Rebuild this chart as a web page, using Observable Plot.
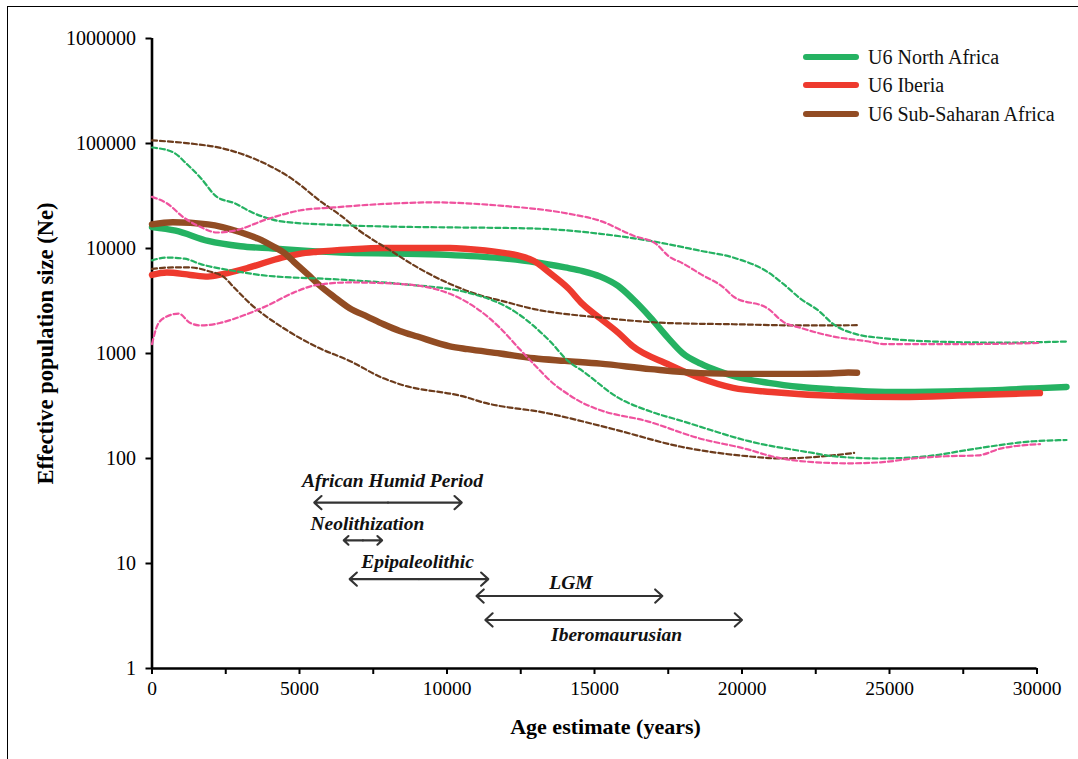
<!DOCTYPE html>
<html>
<head>
<meta charset="utf-8">
<script src="https://cdn.jsdelivr.net/npm/d3@7"></script>
<script src="https://cdn.jsdelivr.net/npm/@observablehq/plot@0.6"></script>
<style>
  body { margin: 0; background: #fff; }
  #wrap { position: relative; width: 1078px; height: 759px; overflow: hidden; background: #fff;
          font-family: "Liberation Serif", "Times New Roman", serif; }
  #frame { position: absolute; left: 7px; top: 6px; width: 1200px; height: 900px;
           border-left: 1px solid #000; border-top: 1px solid #000; pointer-events: none; }
  #chart { position: absolute; left: 0; top: 0; }
  #chart svg text { font-family: "Liberation Serif", "Times New Roman", serif; }
  .leg { position: absolute; left: 803px; height: 28px; display: flex; align-items: center; }
  .leg .sw { width: 56px; height: 6px; border-radius: 3px; }
  .leg .lb { margin-left: 9px; font-size: 20px; color: #111; white-space: nowrap; }
</style>
</head>
<body>
<div id="wrap">
  <div id="chart"></div>
  <div id="frame"></div>
  <div id="legend"></div>
</div>
<script>
// ---------- data (years, effective population size) ----------
const naMedian = [[0,16000],[800,14800],[1900,11800],[3000,10500],[4100,10000],[5300,9500],[6700,9100],[8400,8950],[10000,8700],[11800,8100],[13000,7400],[14000,6600],[14600,6100],[15200,5400],[15800,4400],[16300,3300],[16900,2200],[17500,1400],[18000,1000],[18600,800],[19200,680],[19700,610],[20900,525],[22000,480],[23100,455],[24300,435],[25400,430],[27600,440],[29900,465],[31000,480]];
const naUpper = [[0,91600],[700,83000],[1200,63000],[1650,47000],[2200,31000],[2800,27000],[3400,22000],[3900,19500],[4450,18000],[6150,16800],[8400,16100],[10000,15900],[12950,15500],[15200,13800],[16900,11800],[18600,9500],[19700,8200],[20900,5900],[21400,4600],[22000,3300],[22600,2550],[23100,1900],[23900,1520],[24800,1400],[26500,1300],[28800,1270],[31000,1300]];
const naLower = [[0,7700],[500,8200],[1100,8000],[1650,7100],[2800,6100],[3900,5500],[6150,5100],[8400,4600],[10700,3800],[12400,2400],[13500,1300],[14100,850],[14600,680],[15800,380],[16900,280],[18000,226],[18600,200],[20200,147],[22400,113],[23100,105],[24700,100],[26500,107],[27600,120],[29900,146],[31000,150]];

const ibMedian = [[0,5600],[500,5900],[1300,5600],[1900,5400],[2400,5700],[3300,6600],[4400,8200],[5000,8900],[5600,9300],[6700,9800],[7850,10100],[10100,10100],[10700,9900],[11800,9200],[12400,8600],[12950,7600],[13500,5800],[14100,4200],[14600,2950],[15200,2150],[15800,1580],[16300,1170],[17500,790],[18600,580],[19700,470],[21000,430],[23100,395],[25400,385],[27600,400],[30100,420]];
const ibUpper = [[0,31000],[500,27000],[1100,19500],[1650,16000],[2200,14200],[2800,14800],[3900,19000],[5000,23000],[6150,24600],[8400,27000],[9500,27500],[11800,25600],[14100,21500],[15200,18300],[16300,13300],[17100,11000],[17500,8500],[18000,7200],[18600,5700],[19400,4200],[19700,3500],[20900,2650],[21400,2000],[22000,1750],[23100,1450],[24300,1300],[24800,1230],[27600,1230],[30100,1260]];
const ibLower = [[0,1230],[200,1900],[500,2250],[900,2400],[1300,1950],[1650,1850],[2300,1950],[3000,2250],[3900,2850],[4800,3800],[5600,4500],[6700,4750],[8400,4600],[10100,3700],[11000,2700],[11800,1750],[12400,1150],[13170,680],[13500,550],[14100,410],[14500,350],[15100,295],[16800,226],[18500,157],[20200,122],[21000,105],[21900,95],[23600,90],[24700,92],[25800,100],[26900,105],[28000,107],[28800,125],[30100,137]];

const ssaMedian = [[0,17000],[700,17800],[1900,17000],[3000,14300],[3600,12400],[4150,10300],[4500,9000],[4800,7500],[5300,5600],[5700,4400],[6150,3500],[6700,2700],[7300,2250],[7850,1900],[8400,1640],[9000,1450],[10100,1170],[10700,1100],[11800,1000],[12950,900],[14000,850],[15200,800],[16900,710],[18600,650],[20000,640],[22000,640],[23000,645],[23600,660],[23900,655]];
const ssaUpper = [[0,107000],[1300,100000],[2450,89000],[3600,69000],[4700,47000],[5800,27000],[6400,20600],[7000,15000],[8100,9500],[9000,6600],[10100,4600],[11250,3500],[11800,3200],[12950,2650],[15200,2200],[17500,1950],[19700,1900],[22000,1850],[23900,1860]];
const ssaLower = [[0,6400],[700,6600],[1300,6600],[1900,6100],[2450,5300],[2800,4200],[3350,2950],[4450,1750],[5600,1150],[6700,850],[7850,580],[8400,510],[10700,380],[11100,350],[13400,270],[15650,190],[17900,130],[20200,105],[21300,100],[22400,103],[23800,113]];

const legendNames = ["U6 North Africa", "U6 Iberia", "U6 Sub-Saharan Africa"];

const yTicks = [1, 10, 100, 1000, 10000, 100000, 1000000];
const xTicks = d3.range(0, 30001, 2500);

const periods = ["African Humid Period", "Neolithization", "Epipaleolithic", "LGM", "Iberomaurusian"];
const periodStart = [5500, 6500, 6700, 11000, 11300];
const periodEnd = [10500, 7800, 11400, 17300, 20000];
const arrowLevel = [38, 16.6, 7.1, 4.9, 2.9];
const labelX = [8150, 7300, 9000, 14200, 15750];
const labelLevel = [62, 24, 10.5, 6.6, 2.1];

// ---------- styles ----------
const green = "#25b262", red = "#ee3a2e", brown = "#924c23", pink = "#ef529e", brownDash = "#6d3c1c";
const FONT = '"Liberation Serif", "Times New Roman", serif';

const solid = (pts, color) => Plot.line(pts, {x: d => d[0], y: d => d[1], stroke: color, strokeWidth: 6.4, strokeLinecap: "round", strokeLinejoin: "round", curve: "monotone-x"});
const dashed = (pts, color) => Plot.line(pts, {x: d => d[0], y: d => d[1], stroke: color, strokeWidth: 2.2, strokeDasharray: "5,3", curve: "monotone-x"});

const idx = d3.range(periods.length);
const mid = i => (periodStart[i] + periodEnd[i]) / 2;
const arrowOpts = {stroke: "#333", strokeWidth: 2.1, headLength: 7, headAngle: 85};

const chart = Plot.plot({
  width: 1078,
  height: 759,
  marginLeft: 151.5,
  marginRight: 41.5,
  marginTop: 38,
  marginBottom: 91,
  style: {fontFamily: FONT, fontSize: "20px", color: "#000", background: "transparent"},
  x: {domain: [0, 30000]},
  y: {type: "log", domain: [1, 1000000]},
  marks: [
    Plot.axisY({ticks: yTicks, tickFormat: d => String(d), tickSize: 6, tickPadding: 10, strokeWidth: 2, label: null, fontSize: 20, fontFamily: FONT}),
    Plot.axisX({ticks: xTicks, tickFormat: d => d % 5000 === 0 ? String(d) : "", tickSize: 6, tickPadding: 7, strokeWidth: 2, label: null, fontSize: 19.5, fontFamily: FONT}),
    Plot.ruleX([0], {stroke: "#000", strokeWidth: 2.6}),
    Plot.ruleY([1], {stroke: "#000", strokeWidth: 2.6}),
    solid(naMedian, green),
    solid(ibMedian, red),
    solid(ssaMedian, brown),
    dashed(ssaUpper, brownDash),
    dashed(ssaLower, brownDash),
    dashed(naUpper, green),
    dashed(naLower, green),
    dashed(ibUpper, pink),
    dashed(ibLower, pink),
    Plot.arrow(idx, {x1: mid, x2: i => periodStart[i], y1: i => arrowLevel[i], y2: i => arrowLevel[i], ...arrowOpts}),
    Plot.arrow(idx, {x1: mid, x2: i => periodEnd[i], y1: i => arrowLevel[i], y2: i => arrowLevel[i], ...arrowOpts}),
    Plot.text(idx, {x: i => labelX[i], y: i => labelLevel[i], text: i => periods[i],
      fontFamily: FONT, fontStyle: "italic", fontWeight: "bold", fontSize: 19.5, fill: "#111"}),
    Plot.text(["Effective population size (Ne)"], {text: d => d, frameAnchor: "left", textAnchor: "middle", lineAnchor: "middle",
      rotate: -90, dx: -106, dy: -10, fontFamily: FONT, fontWeight: "bold", fontSize: 22.5, fill: "#000"}),
    Plot.text(["Age estimate (years)"], {text: d => d, frameAnchor: "bottom", textAnchor: "middle", lineAnchor: "middle",
      dx: 11, dy: 58, fontFamily: FONT, fontWeight: "bold", fontSize: 22, fill: "#000"})
  ]
});
document.getElementById("chart").appendChild(chart);

// ---------- legend ----------
const legColors = [green, red, brown];
const legTop = [43, 71, 100];
const legend = document.getElementById("legend");
legendNames.forEach((name, i) => {
  const item = document.createElement("div");
  item.className = "leg";
  item.style.top = legTop[i] + "px";
  item.innerHTML = `<div class="sw" style="background:${legColors[i]}"></div><div class="lb">${name}</div>`;
  legend.appendChild(item);
});
</script>
</body>
</html>
